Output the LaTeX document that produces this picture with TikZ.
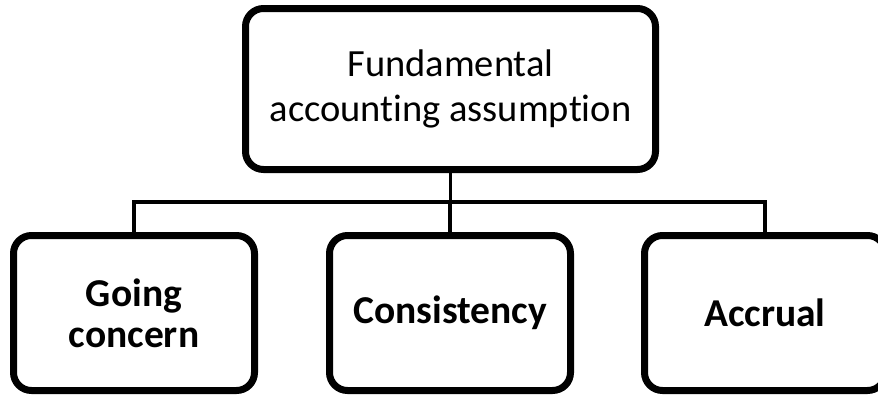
\documentclass[tikz,border=0pt]{standalone}
\usepackage{fontspec}
\setmainfont[Ligatures=NoCommon]{Carlito}
\usetikzlibrary{shadows}
\begin{document}
\begin{tikzpicture}[x=1pt,y=-1pt,
  box/.style={draw=black, line width=7pt, rounded corners=18pt, fill=white, align=center,
    inner sep=0pt,
    drop shadow={opacity=0.25, shadow xshift=2.5pt, shadow yshift=-2.5pt, fill=black}},
  topbox/.style={box, minimum width=410pt, minimum height=161pt, font=\fontsize{38.5}{45}\selectfont},
  leaf/.style={box, minimum width=241pt, minimum height=155pt, font=\fontsize{39.5}{41}\selectfont\bfseries},
  conn/.style={draw=black, line width=3.5pt}]
\useasboundingbox (0,0) rectangle (878,399);
\clip (0,0) rectangle (878,399);
\coordinate (bus) at (0,202);
\node[topbox] (top) at (450.5,89) {Fundamental\\accounting assumption};
\node[leaf] (b1) at (134,313) {Going\\concern};
\node[leaf] (b2) at (450,313) {Consistency};
\node[leaf] (b3) at (765,313) {Accrual};
\draw[conn] (top.south) -- (top.south |- bus);
\draw[conn] (b1.north) -- (b1.north |- bus) -- (b3.north |- bus) -- (b3.north);
\draw[conn] (b2.north) -- (b2.north |- bus);
\end{tikzpicture}
\end{document}
